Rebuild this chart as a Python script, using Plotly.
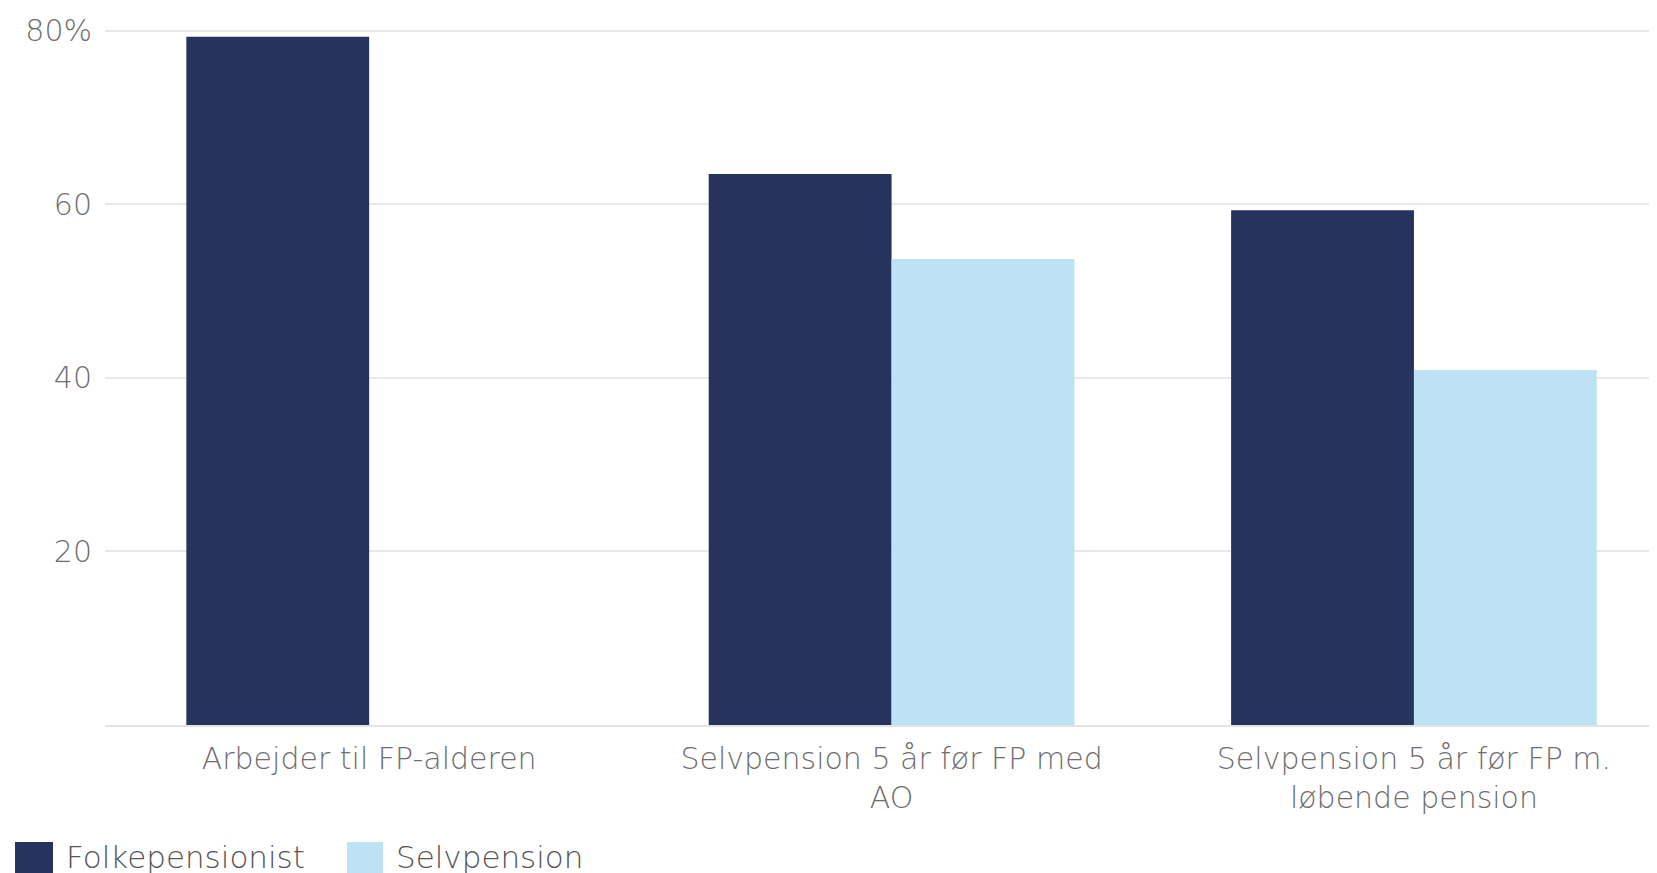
import plotly.graph_objects as go

categories = ["Arbejder til FP-alderen", "Selvpension 5 år før FP med<br>AO", "Selvpension 5 år før FP m.<br>løbende pension"]
folkepensionist = [79.3, 63.5, 59.3]
selvpension = [None, 53.7, 40.9]
series_names = ["Folkepensionist", "Selvpension"]
colors = ["#25335d", "#bde2f5"]
ytick_vals = [20, 40, 60, 80]
ytick_text = ["20", "40", "60", "80%"]

W, H = 1657, 873
L, R, T, B = 97, 0, 14, 156
FONT = "DejaVu Sans"
GRAY = "#6e6e6e"

fig = go.Figure()
fig.add_trace(go.Bar(x=categories, y=folkepensionist, name=series_names[0], marker_color=colors[0], marker_line_width=0))
fig.add_trace(go.Bar(x=categories, y=selvpension, name=series_names[1], marker_color=colors[1], marker_line_width=0))

pw = W - L - R
ph = H - T - B

def px_to_paper_x(px):
    return (px - L) / pw

def py_to_paper_y(py):
    return (H - B - py) / ph

shapes = []
annotations = []
legend_items = [(7, 45, 56), (339, 375, 386)]
for (x0, x1, tx), name, col in zip(legend_items, series_names, colors):
    shapes.append(dict(type="rect", xref="paper", yref="paper",
                       x0=px_to_paper_x(x0), x1=px_to_paper_x(x1),
                       y0=py_to_paper_y(834), y1=py_to_paper_y(880),
                       fillcolor=col, line_width=0, layer="above"))
    annotations.append(dict(text=name, xref="paper", yref="paper",
                            x=px_to_paper_x(tx), y=py_to_paper_y(849),
                            xanchor="left", yanchor="middle", showarrow=False,
                            font=dict(family=FONT, size=31, color="#555555", weight=300)))

fig.update_layout(
    width=W, height=H,
    margin=dict(l=L, r=R, t=T, b=B),
    plot_bgcolor="white", paper_bgcolor="white",
    barmode="group", bargap=0.30, bargroupgap=0,
    showlegend=False,
    font=dict(family=FONT, size=28, color=GRAY),
    shapes=shapes, annotations=annotations,
)
fig.update_xaxes(range=[-0.5057, 2.4806], showgrid=False, showline=True, linecolor="#e3e3e3", linewidth=2,
                 tickfont=dict(family=FONT, size=30, color=GRAY, weight=300), ticks="", ticklabelstandoff=6)
fig.update_yaxes(range=[0, 81], tickvals=ytick_vals, ticktext=ytick_text, showgrid=True, gridcolor="#e8e8e8",
                 gridwidth=2, zeroline=False, showline=False, ticks="", ticklabelstandoff=12,
                 tickfont=dict(family=FONT, size=30, color=GRAY, weight=300))

fig.write_html("out.html")
